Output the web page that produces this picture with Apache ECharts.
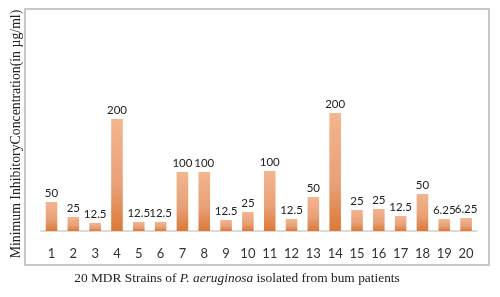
<!DOCTYPE html>
<html>
<head>
<meta charset="utf-8">
<script src="https://cdn.jsdelivr.net/npm/echarts@6/dist/echarts.min.js"></script>
<style>
  html, body { margin: 0; padding: 0; background: #fff; }
  #chart { width: 500px; height: 297px; }
</style>
</head>
<body>
<div id="chart"></div>
<script>
// strain numbers on the x axis
var strains = ['1', '2', '3', '4', '5', '6', '7', '8', '9', '10',
  '11', '12', '13', '14', '15', '16', '17', '18', '19', '20'];
// MIC values printed above the bars (µg/ml)
var micLabels = ['50', '25', '12.5', '200', '12.5', '12.5', '100', '100', '12.5', '25',
  '100', '12.5', '50', '200', '25', '25', '12.5', '50', '6.25', '6.25'];
// bar heights as drawn in the picture (the drawing is not to scale, no y ticks)
var barHeights = [29, 14, 8, 112, 9, 9, 59, 59, 11, 19,
  60, 12, 34, 118, 21, 22, 15, 37, 12, 13];

var chart = echarts.init(document.getElementById('chart'));

var option = {
  animation: false,
  backgroundColor: '#fff',
  grid: { left: 40.6, right: 23, top: 9, bottom: 66 },
  xAxis: {
    type: 'category',
    data: strains,
    axisLine: { lineStyle: { color: '#cfcfcf', width: 1.5 } },
    axisTick: { show: false },
    axisLabel: {
      color: '#333',
      fontFamily: 'Lato',
      fontSize: 13,
      margin: 16
    }
  },
  yAxis: {
    type: 'value',
    min: 0,
    max: 222,
    axisLine: { show: false },
    axisTick: { show: false },
    axisLabel: { show: false },
    splitLine: { show: false }
  },
  series: [{
    type: 'bar',
    data: barHeights,
    barWidth: '53%',
    itemStyle: {
      color: new echarts.graphic.LinearGradient(0, 0, 0, 1, [
        { offset: 0, color: '#f4b58f' },
        { offset: 0.6, color: '#e8a077' },
        { offset: 1, color: '#db7936' }
      ])
    },
    label: {
      show: true,
      position: 'top',
      distance: 3,
      color: '#222',
      fontFamily: 'Lato',
      fontSize: 11.5,
      formatter: function (p) {
        return micLabels[p.dataIndex];
      }
    }
  }],
  graphic: [
    {
      type: 'rect',
      shape: { x: 25, y: 9, width: 464, height: 256 },
      style: { fill: 'none', stroke: '#c8c8c8', lineWidth: 2 },
      silent: true
    },
    {
      type: 'text',
      x: 16,
      y: 134,
      rotation: Math.PI / 2,
      style: {
        text: 'Minimum InhibitoryConcentration(in µg/ml)',
        fontFamily: 'Liberation Serif',
        fontSize: 13.8,
        fill: '#222',
        align: 'center',
        verticalAlign: 'middle'
      }
    },
    {
      type: 'text',
      x: 237,
      y: 278,
      style: {
        text: '{n|20 MDR Strains of }{i|P. aeruginosa}{n| isolated from bum patients}',
        align: 'center',
        verticalAlign: 'middle',
        rich: {
          n: { fontFamily: 'Liberation Serif', fontSize: 13.4, fill: '#222' },
          i: { fontFamily: 'Liberation Serif', fontSize: 13.4, fontStyle: 'italic', fill: '#222' }
        }
      }
    }
  ]
};

chart.setOption(option);
</script>
</body>
</html>
